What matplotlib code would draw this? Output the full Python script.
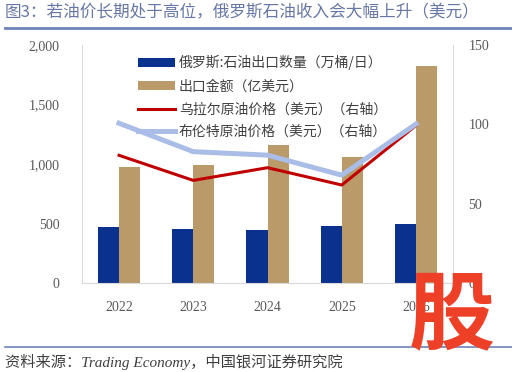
import matplotlib
matplotlib.use("Agg")
import matplotlib.pyplot as plt
import numpy as np

plt.rcParams['font.family'] = ['Noto Sans CJK SC', 'DejaVu Sans']

years = ['2022', '2023', '2024', '2025', '2026']
export_volume = [473, 454, 448, 479, 498]        # 万桶/日
export_value = [978, 994, 1162, 1062, 1826]      # 亿美元
urals_price = [80.5, 64.7, 72.7, 61.8, 99.3]
brent_price = [100.7, 82.8, 80.6, 68.0, 100.2]

c_blue = '#0b318f'
c_brown = '#b99a68'
c_red = '#c00000'
c_lblue = '#a9bde6'
c_tick = '#595959'
c_title = '#6878a6'
c_rule = '#6f83b8'

fig = plt.figure(figsize=(5.12, 3.72), dpi=100)
ax = fig.add_axes([0.16, 0.239, 0.725, 0.64])
ax2 = ax.twinx()

x = np.arange(len(years))
w = 0.284
b1 = ax.bar(x - w / 2, export_volume, w, color=c_blue, zorder=2)
b2 = ax.bar(x + w / 2, export_value, w, color=c_brown, zorder=2)
l1, = ax2.plot(x, urals_price, color=c_red, lw=2.2, zorder=3)
l2, = ax2.plot(x, brent_price, color=c_lblue, lw=3.6, zorder=4)

ax.set_xlim(-0.5, len(years) - 0.5)
ax.set_ylim(0, 2000)
ax2.set_ylim(0, 150)
ax.set_yticks([0, 500, 1000, 1500, 2000])
ax.set_yticklabels(['0', '500', '1,000', '1,500', '2,000'])
ax2.set_yticks([0, 50, 100, 150])
ax.set_xticks(x)
ax.set_xticklabels(years)

for a in (ax, ax2):
    a.tick_params(length=0, colors=c_tick, labelsize=10)
    for lab in a.get_xticklabels() + a.get_yticklabels():
        lab.set_family('Liberation Serif')
    for s in a.spines.values():
        s.set_visible(False)
ax.tick_params(axis='y', pad=16)
ax.tick_params(axis='x', pad=13)
ax2.tick_params(axis='y', pad=11)
for s in ('left', 'bottom'):
    ax.spines[s].set_visible(True)
    ax.spines[s].set_color('#d9d9d9')
ax2.spines['right'].set_visible(True)
ax2.spines['right'].set_color('#d9d9d9')

fig.legend([b1, b2, l1, l2],
           ['俄罗斯:石油出口数量（万桶/日）', '出口金额（亿美元）',
            '乌拉尔原油价格（美元）（右轴）', '布伦特原油价格（美元）（右轴）'],
           loc='upper left', bbox_to_anchor=(0.245, 0.885), frameon=False,
           fontsize=10, handlelength=2.7, handleheight=0.6, labelspacing=0.64,
           handletextpad=0.25, labelcolor='#404040')

fig.text(0.01, 0.965, '图3：若油价长期处于高位，俄罗斯石油收入会大幅上升（美元）',
         fontsize=12, color=c_title, va='center', ha='left')
fig.add_artist(plt.Line2D([0.01, 1.0], [0.925, 0.925], color=c_rule, lw=2))
fig.add_artist(plt.Line2D([0.01, 1.0], [0.068, 0.068], color=c_rule, lw=1.2))
fig.text(0.01, 0.027, '资料来源：Trading Economy，中国银河证券研究院',
         fontsize=11, color='#404040', style='italic', va='center',
         family=['Liberation Serif', 'Noto Sans CJK SC'])

fig.text(0.883, 0.148, '股', fontsize=62, color='#ee4026', fontweight='black',
         ha='center', va='center', zorder=10)

fig.savefig('out.png', dpi=100)
